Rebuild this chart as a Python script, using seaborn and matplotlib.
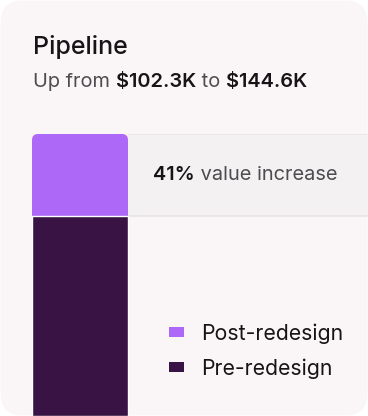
import matplotlib
matplotlib.use("Agg")
import matplotlib.pyplot as plt
from matplotlib.patches import FancyBboxPatch, Patch
import seaborn as sns
import pandas as pd

# data
categories = ["Pipeline"]
stages = ["Post-redesign", "Pre-redesign"]
values = [144.6, 102.3]  # post total, pre value ($K)
increase_pct = 41

colors = {"Post-redesign": "#AE68F7", "Pre-redesign": "#381343"}
card_bg = "#FAF6F8"
band_bg = "#F4F1F3"
band_line = "#E7E3E6"
dark = "#161416"
grey = "#4F4C50"

sns.set_theme(style="white")
plt.rcParams["font.family"] = ["Inter", "DejaVu Sans"]

W, H = 368, 416
fig = plt.figure(figsize=(W / 100, H / 100), dpi=100)
fig.patch.set_facecolor("white")

# rounded card (behind the axes)
card = FancyBboxPatch((0.5, 0.5), W - 1, H - 1, boxstyle="round,pad=0,rounding_size=22",
                      transform=None, facecolor=card_bg, edgecolor="none", zorder=-5)
fig.patches.append(card)

# bar axes: x from 32px to right edge, y: 0 at the bottom edge, 144.6 at 134px
ax = fig.add_axes([32 / W, 0, (W - 32) / W, (416 - 134) / H])
ax.set_facecolor("none")

df = pd.DataFrame({"category": categories * 2, "stage": stages, "value": values})
for stage in stages:
    sub = df[df["stage"] == stage]
    sns.barplot(data=sub, x="category", y="value", color=colors[stage], width=1.0,
                saturation=1, ax=ax, zorder=3)

ax.set_xlim(-0.5, 3.0)
ax.set_ylim(0, values[0])
ax.axis("off")

# round top corners of the post-redesign bar
post_bar = ax.patches[0]
x0, y0 = post_bar.get_x(), post_bar.get_y()
bw, bh = post_bar.get_width(), post_bar.get_height()
px_x = 3.5 / (W - 32)
px_y = values[0] / (416 - 134)
r = 6
post_bar.set_visible(False)
rounded = FancyBboxPatch((x0, y0), bw, bh, boxstyle=f"round,pad=0,rounding_size={r * px_x}",
                         mutation_aspect=px_y / px_x, facecolor=colors["Post-redesign"],
                         edgecolor="none", zorder=3)
ax.add_patch(rounded)
# the pre bar covers the bottom rounded corners
ax.patches[1].set_zorder(4)

# highlight band for the increase
ax.axhspan(values[1], values[0], xmin=1 / 3.5, xmax=1, color=band_bg, zorder=1, lw=0)
for yv in values:
    ax.axhline(yv, xmin=1 / 3.5, xmax=1, color=band_line, lw=1.2, zorder=2)


def run_text(x, y, parts, size):
    # draw text pieces one after another, in pixel coords
    fig.canvas.draw()
    r_ = fig.canvas.get_renderer()
    cx = x
    for s, c, w in parts:
        t = fig.text(cx / W, 1 - y / H, s, color=c, fontsize=size, fontweight=w,
                     va="center", ha="left")
        bb = t.get_window_extent(renderer=r_)
        cx += bb.width


fig.text(33 / W, 1 - 47 / H, "Pipeline", color=dark, fontsize=18, fontweight="medium",
         va="center", ha="left")
run_text(33, 82, [("Up from ", grey, "normal"), ("$102.3K", dark, "semibold"),
                  (" to ", grey, "normal"), ("$144.6K", dark, "semibold")], 14.4)
run_text(153, 175, [(f"{increase_pct}%", dark, "semibold"),
                    (" value increase", grey, "normal")], 14.4)

handles = [Patch(facecolor=colors[s], edgecolor="none", label=s) for s in stages]
leg = fig.legend(handles=handles, loc="center left",
                 frameon=False, fontsize=15.3, handlelength=0.72, handleheight=0.35,
                 handletextpad=0.8, labelspacing=0.68, borderpad=0)
leg.set_bbox_to_anchor((158 / W, 1 - 351 / H), transform=fig.transFigure)
for t in leg.get_texts():
    t.set_color(dark)

fig.savefig("out.png", dpi=100, facecolor=fig.get_facecolor())
